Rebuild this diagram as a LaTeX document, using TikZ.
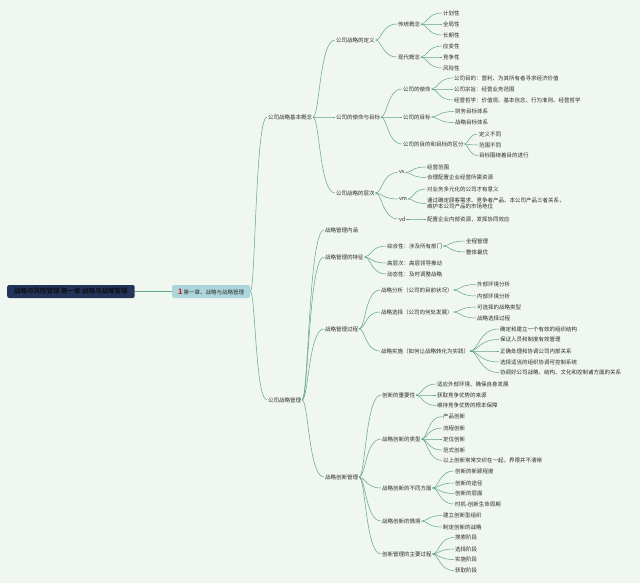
\documentclass[tikz,border=0pt]{standalone}
\usepackage{fontspec}
\setmainfont{Noto Sans CJK SC}
\usetikzlibrary{calc}
\definecolor{bgc}{RGB}{240,246,240}
\definecolor{lnc}{RGB}{95,165,135}
\definecolor{txc}{RGB}{45,45,45}
\definecolor{rootc}{RGB}{35,52,88}
\definecolor{roott}{RGB}{15,20,32}
\definecolor{l1c}{RGB}{172,214,220}
\definecolor{iconred}{RGB}{200,40,50}
\tikzset{
 tp/.style={anchor=west, inner sep=1pt, outer sep=0pt, text=txc, font=\fontsize{5.5}{6.6}\selectfont},
 conn/.style={draw=lnc, line width=0.5pt},
 rootbox/.style={anchor=west, fill=rootc, rounded corners=2pt, inner xsep=7pt, inner ysep=3pt, minimum height=13pt, text=roott, font=\fontsize{6.5}{7.5}\selectfont\bfseries},
 lonebox/.style={anchor=west, fill=l1c, rounded corners=1.5pt, inner xsep=3pt, inner ysep=2pt, minimum height=13pt, minimum width=78pt, text=txc, font=\fontsize{5.5}{6.6}\selectfont},
}
\newcommand\mmlink[2]{\draw[conn] let \p1=(#1.east), \p2=(#2.west) in (\p1) .. controls ({\x1+0.3*(\x2-\x1)},\y1) and ({\x1+0.3*(\x2-\x1)},\y2) .. (\p2);}
\begin{document}
\begin{tikzpicture}[x=1pt,y=-1pt]
\fill[bgc] (0,0) rectangle (640,583);
\useasboundingbox (0,0) rectangle (640,583);
% root and level 1
\node[rootbox] (root) at (7,291.5) {战略与风险管理 第一章 战略与战略管理};
\node[lonebox] (l1) at (172,291.5) {{\color{iconred}\fontsize{7.5}{7.5}\selectfont\bfseries 1}\,第一章、战略与战略管理};
\draw[conn] (root.east) -- (l1.west);
% level 2
\node[tp] (A) at (267,117) {公司战略基本概念};
\node[tp] (B) at (267,400) {公司战略管理};
\mmlink{l1}{A}\mmlink{l1}{B}
% A children
\node[tp] (A1) at (335,40) {公司战略的定义};
\node[tp] (A2) at (335,117) {公司的使命与目标};
\node[tp] (A3) at (335,193) {公司战略的层次};
\mmlink{A}{A1}\mmlink{A}{A2}\mmlink{A}{A3}
% A1
\node[tp] (A11) at (397,24) {传统概念};
\node[tp] (A12) at (397,57) {现代概念};
\mmlink{A1}{A11}\mmlink{A1}{A12}
\node[tp] (A11a) at (442,13) {计划性};
\node[tp] (A11b) at (442,24) {全局性};
\node[tp] (A11c) at (442,35) {长期性};
\mmlink{A11}{A11a}\mmlink{A11}{A11b}\mmlink{A11}{A11c}
\node[tp] (A12a) at (442,46) {应变性};
\node[tp] (A12b) at (442,57) {竞争性};
\node[tp] (A12c) at (442,68) {风险性};
\mmlink{A12}{A12a}\mmlink{A12}{A12b}\mmlink{A12}{A12c}
% A2
\node[tp] (A21) at (402,89) {公司的使命};
\node[tp] (A22) at (402,117) {公司的目标};
\node[tp] (A23) at (402,144) {公司的目的和目标的区分};
\mmlink{A2}{A21}\mmlink{A2}{A22}\mmlink{A2}{A23}
\node[tp] (A21a) at (453,78) {公司目的：营利、为其所有者寻求经济价值};
\node[tp] (A21b) at (453,89) {公司宗旨：经营业务范围};
\node[tp] (A21c) at (453,100) {经营哲学：价值观、基本信念、行为准则、经营哲学};
\mmlink{A21}{A21a}\mmlink{A21}{A21b}\mmlink{A21}{A21c}
\node[tp] (A22a) at (454,111.5) {财务目标体系};
\node[tp] (A22b) at (454,122.5) {战略目标体系};
\mmlink{A22}{A22a}\mmlink{A22}{A22b}
\node[tp] (A23a) at (478,134) {定义不同};
\node[tp] (A23b) at (478,145) {范围不同};
\node[tp] (A23c) at (478,155.5) {目标围绕着目的进行};
\mmlink{A23}{A23a}\mmlink{A23}{A23b}\mmlink{A23}{A23c}
% A3
\node[tp] (A31) at (398,172.5) {vs};
\node[tp] (A32) at (398,199) {vm};
\node[tp] (A33) at (398,219) {vd};
\mmlink{A3}{A31}\mmlink{A3}{A32}\mmlink{A3}{A33}
\node[tp] (A31a) at (426,167) {经营范围};
\node[tp] (A31b) at (426,177.5) {合理配置企业经营所需资源};
\mmlink{A31}{A31a}\mmlink{A31}{A31b}
\node[tp] (A32a) at (426,189) {对业务多元化的公司才有意义};
\node[tp, align=left] (A32b) at (426,203.5) {通过确定顾客需求、竞争者产品、本公司产品三者关系，\\维护本公司产品的市场地位};
\mmlink{A32}{A32a}\mmlink{A32}{A32b}
\node[tp] (A33a) at (426,219) {配置企业内部资源，发挥协同效应};
\mmlink{A33}{A33a}
% B children
\node[tp] (B1) at (324,230) {战略管理内涵};
\node[tp] (B2) at (324,257) {战略管理的特征};
\node[tp] (B3) at (324,329) {战略管理过程};
\node[tp] (B4) at (324,477) {战略创新管理};
\mmlink{B}{B1}\mmlink{B}{B2}\mmlink{B}{B3}\mmlink{B}{B4}
% B2
\node[tp] (B21) at (386,246) {综合性：涉及所有部门};
\node[tp] (B22) at (386,263) {高层次：高层领导推动};
\node[tp] (B23) at (386,274) {动态性：及时调整战略};
\mmlink{B2}{B21}\mmlink{B2}{B22}\mmlink{B2}{B23}
\node[tp] (B21a) at (465,241) {全程管理};
\node[tp] (B21b) at (465,252) {整体最优};
\mmlink{B21}{B21a}\mmlink{B21}{B21b}
% B3
\node[tp] (B31) at (380,290) {战略分析（公司的目前状况）};
\node[tp] (B32) at (380,312) {战略选择（公司向何处发展）};
\node[tp] (B33) at (380,351) {战略实施（如何让战略转化为实践）};
\mmlink{B3}{B31}\mmlink{B3}{B32}\mmlink{B3}{B33}
\node[tp] (B31a) at (476,284.5) {外部环境分析};
\node[tp] (B31b) at (476,296) {内部环境分析};
\mmlink{B31}{B31a}\mmlink{B31}{B31b}
\node[tp] (B32a) at (476,307) {可选择的战略类型};
\node[tp] (B32b) at (476,318) {战略选择过程};
\mmlink{B32}{B32a}\mmlink{B32}{B32b}
\node[tp] (B33a) at (499,329) {确定和建立一个有效的组织结构};
\node[tp] (B33b) at (499,339.5) {保证人员和制度有效管理};
\node[tp] (B33c) at (499,351) {正确处理和协调公司内部关系};
\node[tp] (B33d) at (499,362) {选择适当的组织协调可控制系统};
\node[tp] (B33e) at (499,372.5) {协调好公司战略、结构、文化和控制诸方面的关系};
\mmlink{B33}{B33a}\mmlink{B33}{B33b}\mmlink{B33}{B33c}\mmlink{B33}{B33d}\mmlink{B33}{B33e}
% B4
\node[tp] (B41) at (381,395) {创新的重要性};
\node[tp] (B42) at (381,439) {战略创新的类型};
\node[tp] (B43) at (381,488) {战略创新的不同方面};
\node[tp] (B44) at (381,521) {战略创新的情境};
\node[tp] (B45) at (381,554) {创新管理的主要过程};
\mmlink{B4}{B41}\mmlink{B4}{B42}\mmlink{B4}{B43}\mmlink{B4}{B44}\mmlink{B4}{B45}
\node[tp] (B41a) at (436,384) {适应外部环境、确保自身发展};
\node[tp] (B41b) at (436,395) {获取竞争优势的来源};
\node[tp] (B41c) at (436,405.5) {维持竞争优势的根本保障};
\mmlink{B41}{B41a}\mmlink{B41}{B41b}\mmlink{B41}{B41c}
\node[tp] (B42a) at (442,416.5) {产品创新};
\node[tp] (B42b) at (442,428) {流程创新};
\node[tp] (B42c) at (442,439) {定位创新};
\node[tp] (B42d) at (442,450) {范式创新};
\node[tp] (B42e) at (442,460.5) {以上创新常常交织在一起，界限并不清晰};
\mmlink{B42}{B42a}\mmlink{B42}{B42b}\mmlink{B42}{B42c}\mmlink{B42}{B42d}\mmlink{B42}{B42e}
\node[tp] (B43a) at (454,471) {创新的新颖程度};
\node[tp] (B43b) at (454,483) {创新的途径};
\node[tp] (B43c) at (454,493.5) {创新的层面};
\node[tp] (B43d) at (454,504) {时机-创新生命周期};
\mmlink{B43}{B43a}\mmlink{B43}{B43b}\mmlink{B43}{B43c}\mmlink{B43}{B43d}
\node[tp] (B44a) at (442,515.5) {建立创新型组织};
\node[tp] (B44b) at (442,527) {制定创新的战略};
\mmlink{B44}{B44a}\mmlink{B44}{B44b}
\node[tp] (B45a) at (454,537.5) {搜索阶段};
\node[tp] (B45b) at (454,549) {选择阶段};
\node[tp] (B45c) at (454,559.5) {实施阶段};
\node[tp] (B45d) at (454,570.5) {获取阶段};
\mmlink{B45}{B45a}\mmlink{B45}{B45b}\mmlink{B45}{B45c}\mmlink{B45}{B45d}
\end{tikzpicture}
\end{document}
